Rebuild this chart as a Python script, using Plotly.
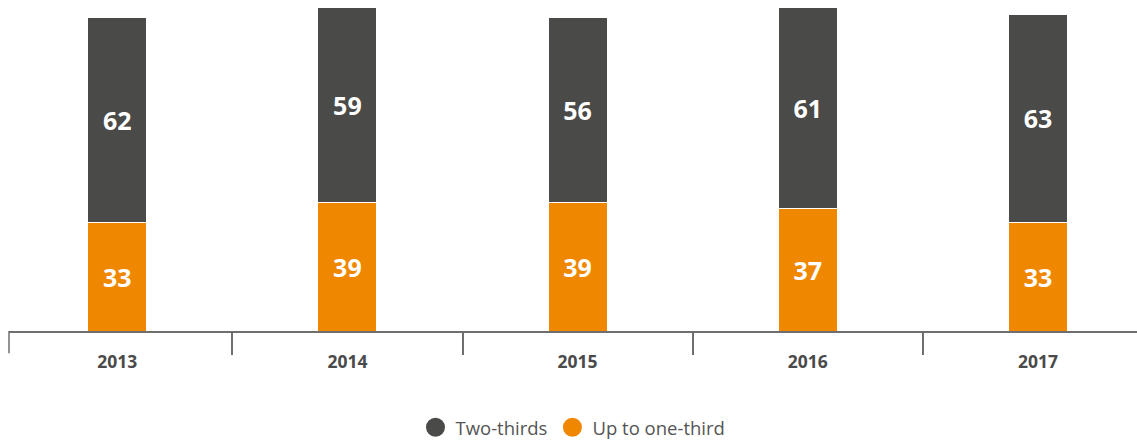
import plotly.graph_objects as go

years = ["2013", "2014", "2015", "2016", "2017"]
up_to_one_third = [33, 39, 39, 37, 33]
two_thirds = [62, 59, 56, 61, 63]

ORANGE = "#f08700"
DARK = "#4a4a48"
AXIS = "#6e6e6e"
FONT = "Open Sans"

fig = go.Figure()

# Stacked bars: orange base, dark segment on top
fig.add_trace(go.Bar(
    x=years, y=up_to_one_third, name="Up to one-third",
    marker=dict(color=ORANGE, line=dict(color="white", width=1)),
    width=0.256, showlegend=False,
    text=up_to_one_third, texttemplate="%{text}", textposition="inside",
    insidetextanchor="middle",
    textfont=dict(family=FONT, size=25, color="white", weight="bold"),
))
fig.add_trace(go.Bar(
    x=years, y=two_thirds, name="Two-thirds",
    marker=dict(color=DARK, line=dict(color="white", width=1)),
    width=0.256, showlegend=False,
    text=two_thirds, texttemplate="%{text}", textposition="inside",
    insidetextanchor="middle",
    textfont=dict(family=FONT, size=25, color="white", weight="bold"),
))

# Legend entries with round markers
for name, color in [("Two-thirds", DARK), ("Up to one-third", ORANGE)]:
    fig.add_trace(go.Scatter(
        x=[None], y=[None], mode="markers", name=name,
        marker=dict(symbol="circle", size=18, color=color,
                    line=dict(color=color, width=3)),
    ))

# Left-edge tick where the axis line starts
fig.add_shape(type="line", xref="paper", yref="paper",
              x0=0, x1=0, y0=0, y1=-0.067,
              line=dict(color=AXIS, width=1.5))

fig.update_layout(
    barmode="stack",
    width=1137, height=447,
    margin=dict(l=9, r=0, t=0, b=116, autoexpand=False),
    plot_bgcolor="white", paper_bgcolor="white",
    uniformtext=dict(minsize=8, mode="show"),
    legend=dict(
        orientation="h", x=0.5, xanchor="center",
        yref="container", y=0.043, yanchor="middle",
        font=dict(family=FONT, size=18.5, color="#555555"),
        traceorder="normal", itemwidth=30,
    ),
    xaxis=dict(
        type="category", range=[-0.47, 4.43],
        showline=True, linecolor=AXIS, linewidth=1.5,
        ticks="outside", tickson="boundaries", ticklen=22,
        tickcolor=AXIS, tickwidth=1.5,
        ticklabelstandoff=14,
        tickfont=dict(family=FONT, size=17.5, color="#4a4a4a", weight="bold"),
        showgrid=False, zeroline=False,
    ),
    yaxis=dict(
        range=[0, 100.3], visible=False, showgrid=False, zeroline=False,
    ),
)

fig.write_html("out.html")
